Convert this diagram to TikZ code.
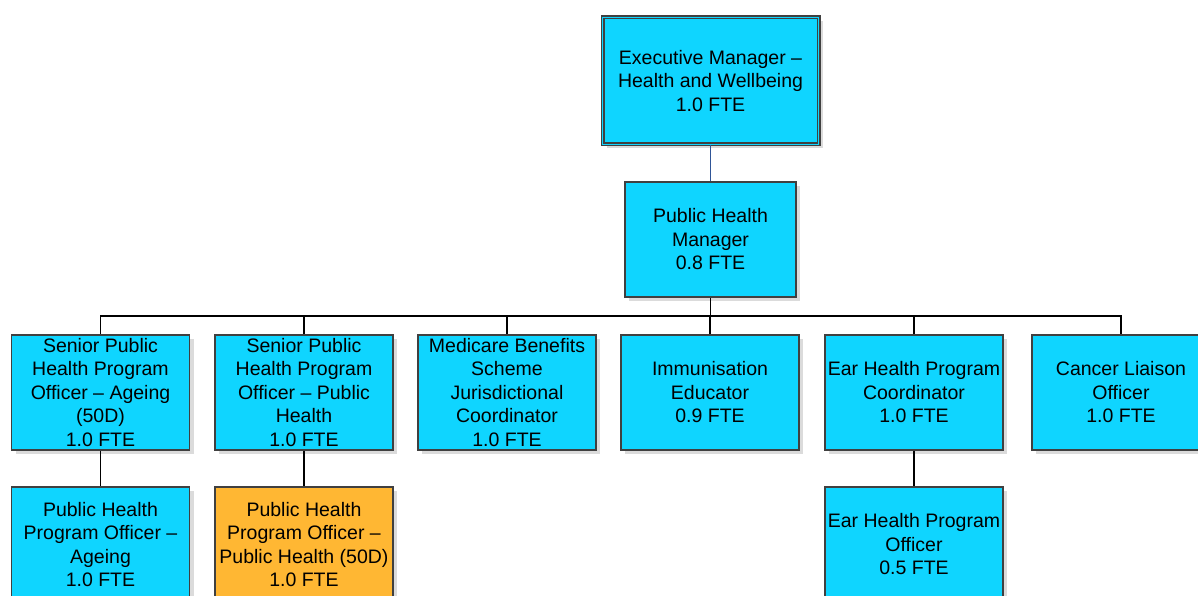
\documentclass[tikz,border=0pt]{standalone}
\usepackage{fontspec}
\setmainfont{Liberation Sans}
\usetikzlibrary{shadows,calc}
\definecolor{boxcyan}{RGB}{15,213,255}
\definecolor{boxorange}{RGB}{255,183,51}
\definecolor{boxborder}{RGB}{64,64,64}
\definecolor{execline}{RGB}{47,85,151}
\begin{document}
\begin{tikzpicture}[x=1pt,y=-1pt,
  role/.style={draw=boxborder, line width=1.3pt, fill=boxcyan,
    minimum width=178pt, minimum height=115pt, inner sep=0pt, align=center,
    font=\fontsize{19.5}{23.5}\selectfont,
    general shadow={fill=black!14, shadow xshift=4pt, shadow yshift=-4pt}},
  orangerole/.style={role, fill=boxorange},
  link/.style={draw=black, line width=1.3pt},
  execlink/.style={draw=execline, line width=1.1pt}]
\useasboundingbox (0,0) rectangle (1198,596);
\clip (0,0) rectangle (1198,596);

% top
\node[role, minimum width=216pt, minimum height=127pt, double=boxcyan, double distance=1.8pt, line width=1.1pt] (exec) at (710.5,81)
  {Executive Manager –\\Health and Wellbeing\\1.0 FTE};
\node[role, minimum width=171pt] (phm) at (710.5,239.5)
  {Public Health\\Manager\\0.8 FTE};

% row 1
\node[role] (sen1) at (100.5,392.5) {Senior Public\\Health Program\\Officer – Ageing\\(50D)\\1.0 FTE};
\node[role] (sen2) at (304,392.5) {Senior Public\\Health Program\\Officer – Public\\Health\\1.0 FTE};
\node[role] (mbs) at (507,392.5) {Medicare Benefits\\Scheme\\Jurisdictional\\Coordinator\\1.0 FTE};
\node[role] (imm) at (710,392.5) {Immunisation\\Educator\\0.9 FTE};
\node[role] (ear) at (914,392.5) {Ear Health Program\\Coordinator\\1.0 FTE};
\node[role] (can) at (1121,392.5) {Cancer Liaison\\Officer\\1.0 FTE};

% row 2
\node[role] (pho1) at (100.5,544.5) {Public Health\\Program Officer –\\Ageing\\1.0 FTE};
\node[orangerole] (pho2) at (304,544.5) {Public Health\\Program Officer –\\Public Health (50D)\\1.0 FTE};
\node[role] (earo) at (914,544.5) {Ear Health Program\\Officer\\0.5 FTE};

% connectors
\draw[execlink] (exec.south) -- (phm.north);
\coordinate (bus) at (710.5,316);
\draw[link] (phm.south) -- (bus);
\draw[link] (sen1.north) |- (bus) -| (can.north);
\draw[link] (sen2.north) -- (sen2.north |- bus);
\draw[link] (mbs.north) -- (mbs.north |- bus);
\draw[link] (imm.north) -- (imm.north |- bus);
\draw[link] (ear.north) -- (ear.north |- bus);
\draw[link] (sen1.south) -- (pho1.north);
\draw[link] (sen2.south) -- (pho2.north);
\draw[link] (ear.south) -- (earo.north);
\end{tikzpicture}
\end{document}
